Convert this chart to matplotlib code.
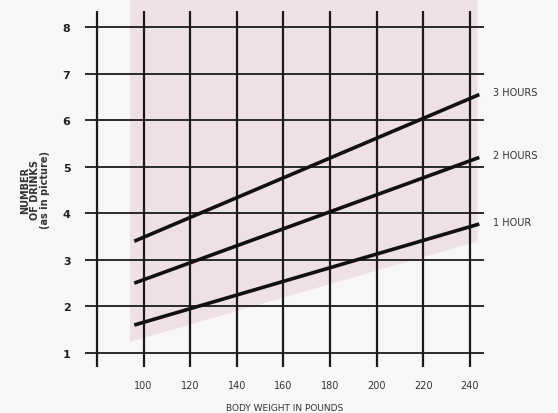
import numpy as np
import matplotlib.pyplot as plt

# body weight (lb) at the ends of each line, and drinks
weight_ends = [96, 244]
drinks_1h = [1.6, 3.77]
drinks_2h = [2.5, 5.2]
drinks_3h = [3.4, 6.55]
line_labels = ['1 HOUR', '2 HOURS', '3 HOURS']

x_ticks = [100, 120, 140, 160, 180, 200, 220, 240]
x_grid = [80] + x_ticks
y_ticks = [1, 2, 3, 4, 5, 6, 7, 8]

bg = '#f7f7f7'
fig = plt.figure(figsize=(5.58, 4.14), dpi=100, facecolor=bg)
ax = fig.add_axes([0.1487, 0.1056, 0.7228, 0.8717])
ax.set_facecolor(bg)
ax.set_xlim(74, 247)
ax.set_ylim(0.65, 8.4)

# pink tint behind the lines
xs = np.array([94, 243])
low = np.interp(xs, weight_ends, drinks_1h) - 0.35
ax.fill_between(xs, low, 8.6, color='#efdfe6', lw=0, zorder=0, clip_on=False)

# grid
ax.hlines(y_ticks, 75, 246, color='#1a1a1a', lw=1.3, zorder=1)
ax.vlines(x_grid, 0.7, 8.35, color='#1a1a1a', lw=1.6, zorder=1)

for ys, lab in zip([drinks_1h, drinks_2h, drinks_3h], line_labels):
    ax.plot(weight_ends, ys, color='#111111', lw=2.6, solid_capstyle='butt', zorder=3)
    ax.text(250, ys[1] + 0.05, lab, fontsize=7, color='#333333',
            ha='left', va='center', clip_on=False)

for s in ax.spines.values():
    s.set_visible(False)
ax.tick_params(length=0)
ax.set_xticks(x_ticks)
ax.set_xticklabels([str(v) for v in x_ticks], fontsize=7, color='#333333')
ax.set_yticks(y_ticks)
ax.set_yticklabels([str(v) for v in y_ticks], fontsize=8, color='#222222',
                   fontweight='bold')
ax.tick_params(axis='x', pad=8)
ax.tick_params(axis='y', pad=9)

ax.set_xlabel('BODY WEIGHT IN POUNDS', fontsize=6.5, color='#333333', labelpad=9)
fig.text(0.063, 0.54, 'NUMBER\nOF DRINKS\n(as in picture)', rotation=90,
         fontsize=7, color='#333333', ha='center', va='center',
         fontweight='bold', linespacing=1.0)

plt.savefig('out.png', dpi=100, facecolor=bg)
